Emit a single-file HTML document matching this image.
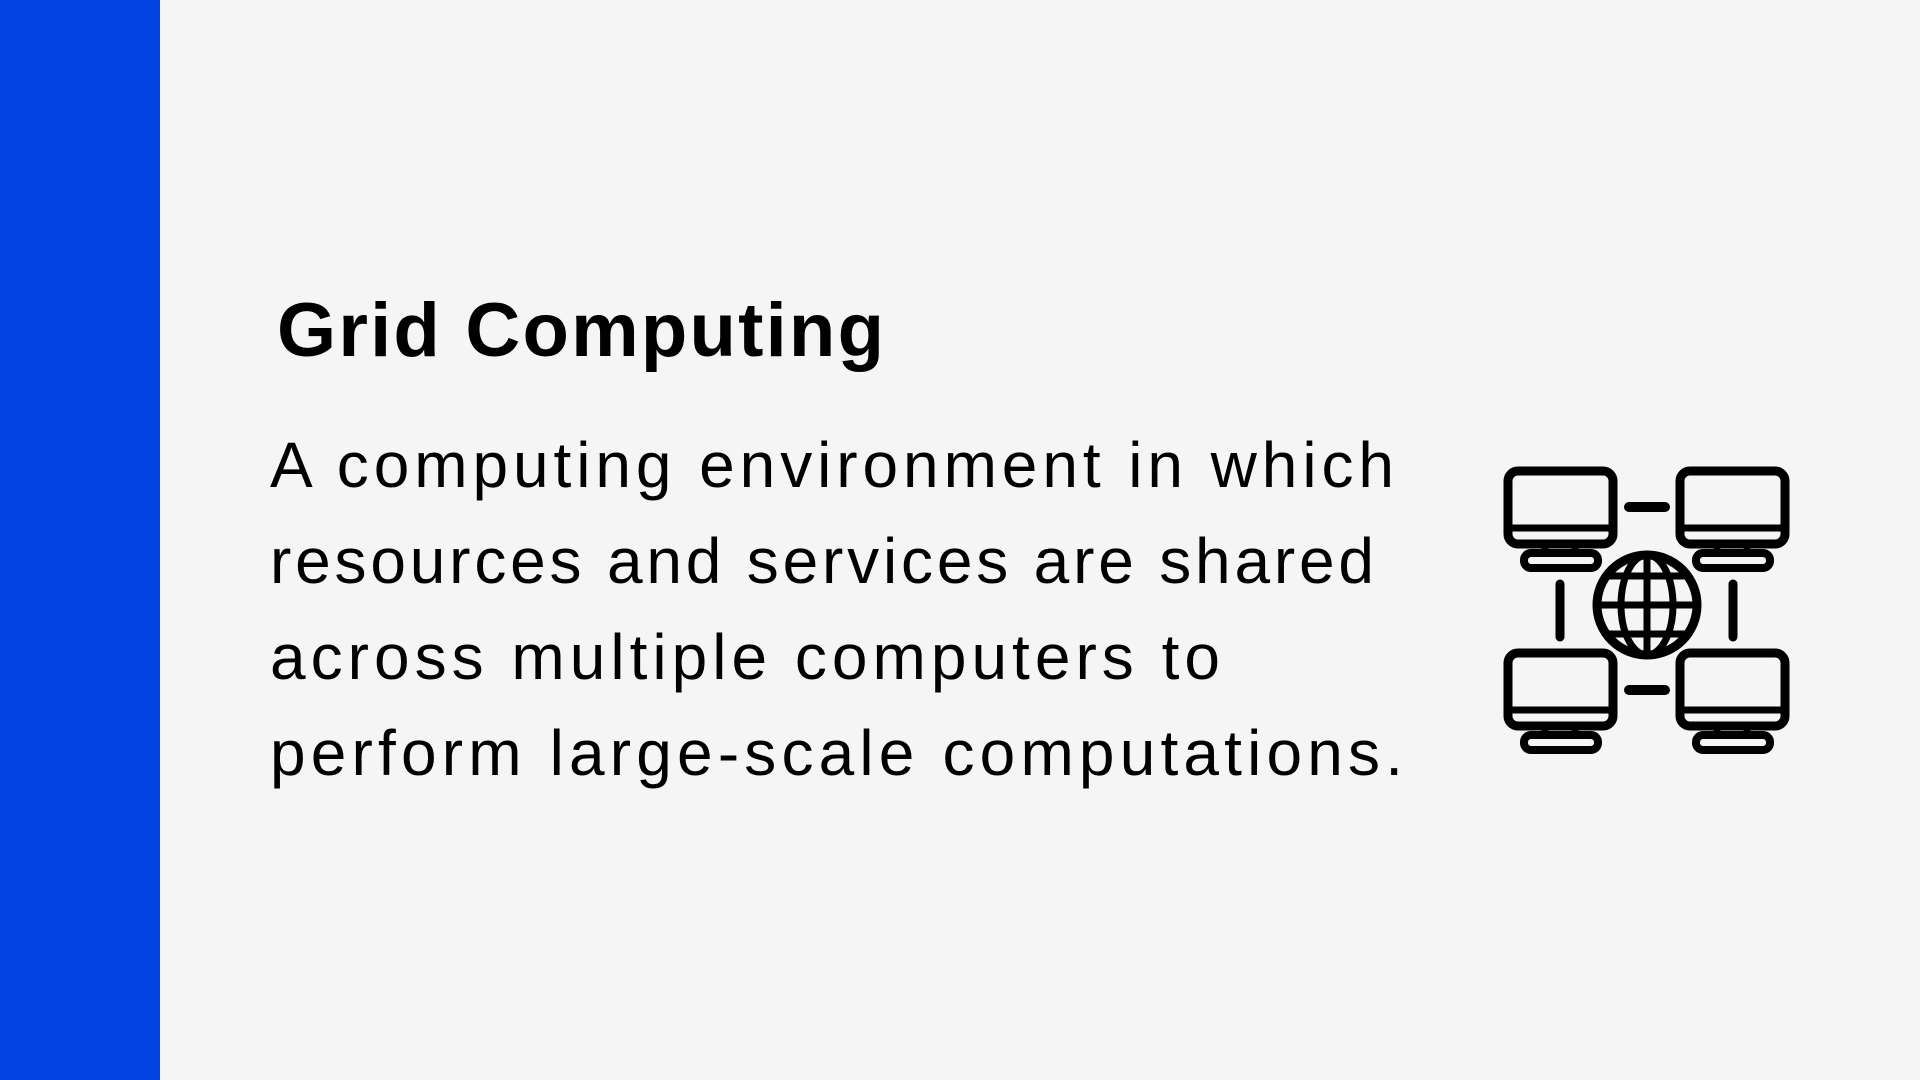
<!DOCTYPE html>
<html><head><meta charset="utf-8"><style>
html,body{margin:0;padding:0;width:1920px;height:1080px;overflow:hidden;background:#f5f5f5}
</style></head><body>
<svg width="1920" height="1080" viewBox="0 0 1920 1080" xmlns="http://www.w3.org/2000/svg" style="position:absolute;left:0;top:0">
<rect width="1920" height="1080" fill="#f5f5f5"/>
<rect x="0" y="0" width="160" height="1080" fill="#0544e4"/>
<g font-family="Liberation Sans, sans-serif" fill="#000">
<text x="277" y="356" font-size="76" font-weight="bold" textLength="607" lengthAdjust="spacing">Grid Computing</text>
<g font-size="64">
<text x="270" y="487" textLength="1124" lengthAdjust="spacing">A computing environment in which</text>
<text x="270" y="583" textLength="1104" lengthAdjust="spacing">resources and services are shared</text>
<text x="270" y="679" textLength="950" lengthAdjust="spacing">across multiple computers to</text>
<text x="270" y="775" textLength="1133" lengthAdjust="spacing">perform large-scale computations.</text>
</g>
</g>
<g transform="translate(1495,460)" fill="none" stroke="#000" stroke-width="9" stroke-linecap="round" stroke-linejoin="round">
<g id="m">
<rect x="13" y="11" width="105" height="73" rx="10"/>
<line x1="13" y1="68" x2="118" y2="68" stroke-width="7"/>
<line x1="50" y1="84" x2="50" y2="92" stroke-width="7"/>
<line x1="80" y1="84" x2="80" y2="92" stroke-width="7"/>
<rect x="29" y="93" width="74" height="15" rx="7" stroke-width="8"/>
</g>
<use href="#m" transform="translate(172,0)"/>
<use href="#m" transform="translate(0,182)"/>
<use href="#m" transform="translate(172,182)"/>
<line x1="134" y1="47" x2="170" y2="47" stroke-width="10"/>
<line x1="134" y1="230" x2="170" y2="230" stroke-width="10"/>
<line x1="65" y1="124" x2="65" y2="177" stroke-width="9"/>
<line x1="238" y1="124" x2="238" y2="177" stroke-width="9"/>
<circle cx="152" cy="145" r="50"/>
<ellipse cx="152" cy="145" rx="26" ry="50" stroke-width="7"/>
<line x1="152" y1="95" x2="152" y2="195" stroke-width="7"/>
<line x1="102" y1="145" x2="202" y2="145" stroke-width="7"/>
<line x1="112" y1="116" x2="192" y2="116" stroke-width="7"/>
<line x1="112" y1="174" x2="192" y2="174" stroke-width="7"/>
</g>
</svg>
</body></html>
